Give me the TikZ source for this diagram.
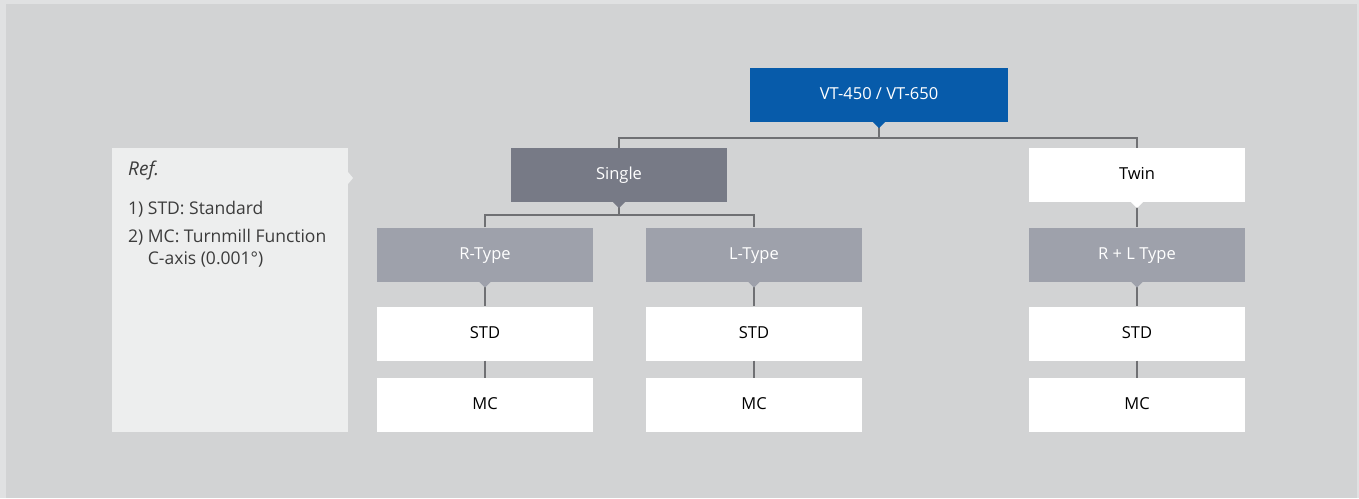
\documentclass[tikz,border=0pt]{standalone}
\usepackage{fontspec}
\setmainfont{Open Sans}
\definecolor{outerbg}{HTML}{E0E1E2}
\definecolor{innerbg}{HTML}{D2D3D4}
\definecolor{vtblue}{HTML}{075BAA}
\definecolor{singlegray}{HTML}{777A86}
\definecolor{typegray}{HTML}{9EA1AB}
\definecolor{refbg}{HTML}{EDEEEE}
\definecolor{linegray}{HTML}{6F7073}
\definecolor{reftext}{HTML}{3C3C3C}
\begin{document}
\begin{tikzpicture}[x=1pt,y=-1pt,
  box/.style={minimum width=216pt,minimum height=54pt,inner sep=0pt,text height=12pt,text depth=3pt,font=\fontsize{16.5}{19}\selectfont},
  bluebox/.style={box,fill=vtblue,text=white,minimum width=258pt},
  singlebox/.style={box,fill=singlegray,text=white},
  typebox/.style={box,fill=typegray,text=white},
  whitebox/.style={box,fill=white,text=black},
  reftxt/.style={anchor=west,text=reftext,inner sep=0pt,font=\fontsize{17.5}{21}\selectfont},
  conn/.style={draw=linegray,line width=1.5pt}]
\useasboundingbox (0,0) rectangle (1359,498);
\fill[outerbg] (0,0) rectangle (1359,498);
\fill[innerbg] (6,4) rectangle (1357,498);
% reference panel
\fill[refbg] (112,148) rectangle (348,432);
\fill[refbg] (348,172) -- (353,178) -- (348,184) -- cycle;
\node[reftxt,font=\fontsize{19}{22}\selectfont\itshape] (reft) at (128,171) {Ref.};
\node[reftxt] (ref1) at (128,209) {1) STD: Standard};
\node[reftxt] (ref2) at (128,237) {2) MC: Turnmill Function};
\node[reftxt] (ref3) at (128,259) {\hphantom{2) }C-axis (0.001°)};
% nodes
\node[bluebox] (vt) at (879,95) {VT-450 / VT-650};
\node[singlebox] (single) at (619,175) {Single};
\node[whitebox] (twin) at (1137,175) {Twin};
\node[typebox] (rt) at (485,254.5) {R-Type};
\node[typebox] (lt) at (754,254.5) {L-Type};
\node[typebox] (rlt) at (1137,254.5) {R + L Type};
\node[whitebox] (std1) at (485,333.5) {STD};
\node[whitebox] (std2) at (754,333.5) {STD};
\node[whitebox] (std3) at (1137,333.5) {STD};
\node[whitebox] (mc1) at (485,405) {MC};
\node[whitebox] (mc2) at (754,405) {MC};
\node[whitebox] (mc3) at (1137,405) {MC};
% connectors
\coordinate (b1) at (879,138);
\coordinate (b2) at (619,215);
\draw[conn] (vt.south) -- (b1);
\draw[conn] (single.north) -- (single.north |- b1) -| (twin.north);
\draw[conn] (single.south) -- (b2);
\draw[conn] (rt.north) -- (rt.north |- b2) -| (lt.north);
\draw[conn] (twin.south) -- (rlt.north);
\foreach \a/\b in {rt/std1,lt/std2,rlt/std3,std1/mc1,std2/mc2,std3/mc3}
  \draw[conn] (\a.south) -- (\b.north);
% pointers
\foreach \n/\c in {vt/vtblue,single/singlegray,twin/white,rt/typegray,lt/typegray,rlt/typegray}
  \fill[\c] ([xshift=-6pt]\n.south) -- ([xshift=6pt]\n.south) -- ([yshift=-6pt]\n.south) -- cycle;
\end{tikzpicture}
\end{document}
